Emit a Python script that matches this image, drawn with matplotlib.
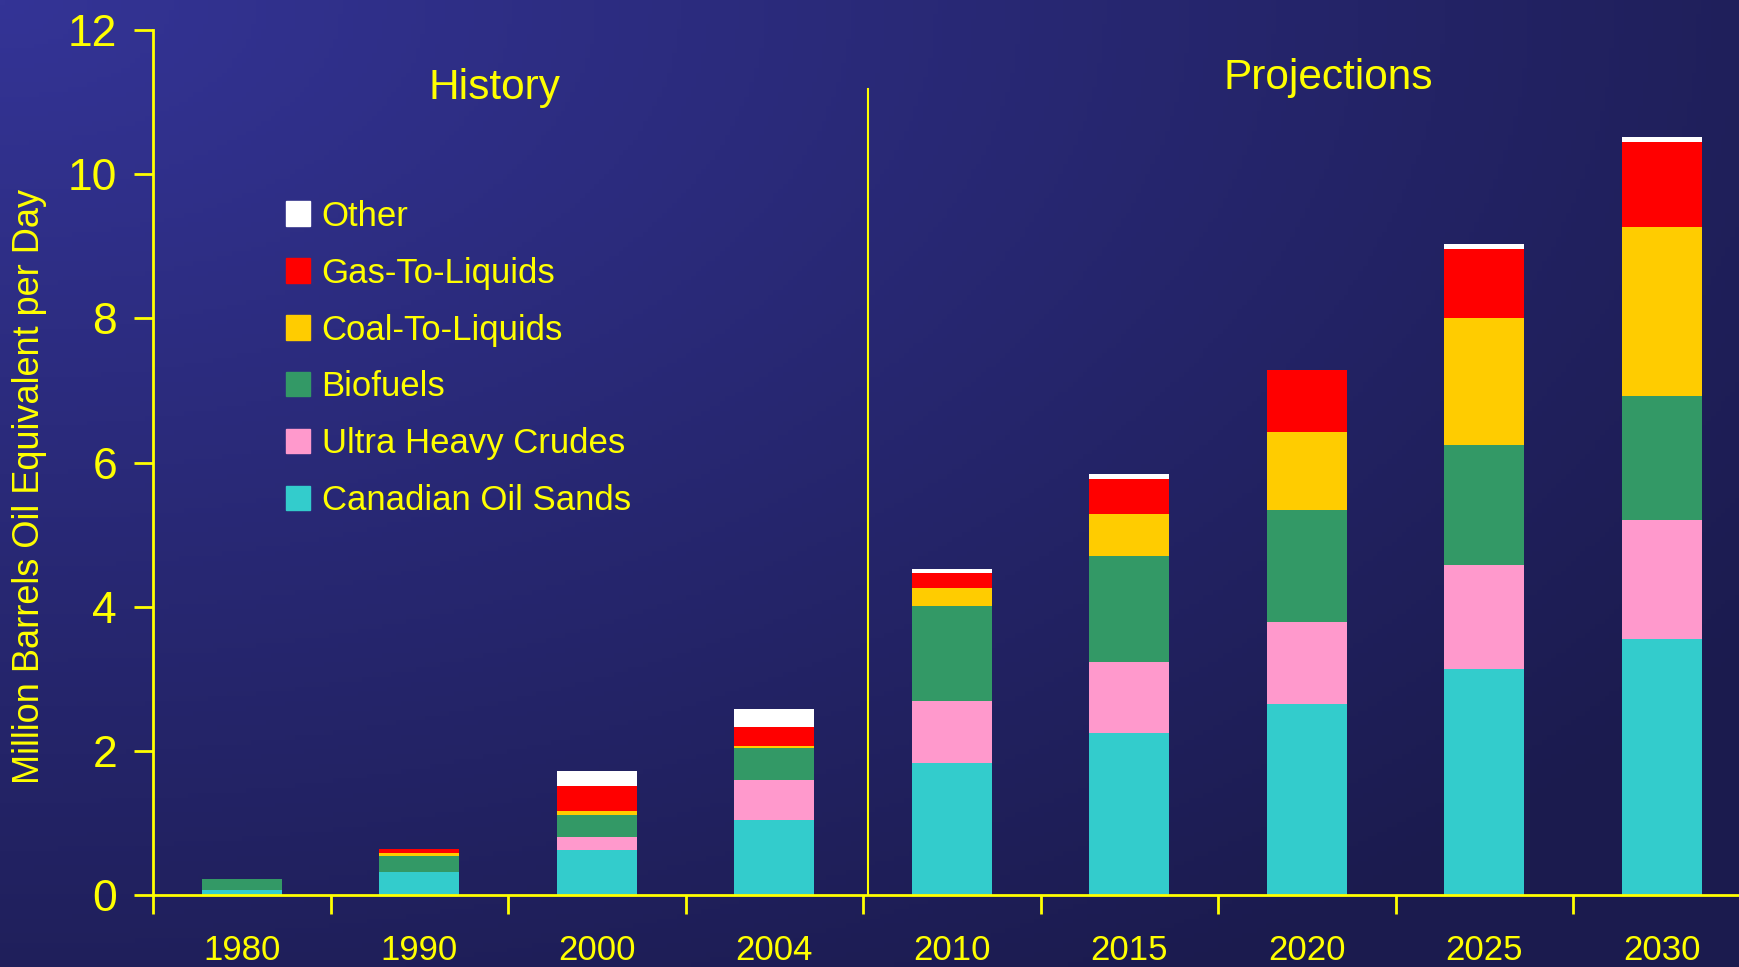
import numpy as np
import matplotlib.pyplot as plt
from matplotlib.patches import Patch

# data (million barrels oil equivalent per day)
years = ['1980', '1990', '2000', '2004', '2010', '2015', '2020', '2025', '2030']
canadian_oil_sands = [0.08, 0.33, 0.63, 1.05, 1.83, 2.25, 2.65, 3.14, 3.55]
ultra_heavy_crudes = [0.00, 0.00, 0.18, 0.55, 0.87, 0.99, 1.14, 1.44, 1.65]
biofuels = [0.15, 0.21, 0.30, 0.44, 1.31, 1.46, 1.56, 1.66, 1.73]
coal_to_liquids = [0.00, 0.05, 0.06, 0.03, 0.25, 0.59, 1.07, 1.77, 2.34]
gas_to_liquids = [0.00, 0.06, 0.35, 0.27, 0.21, 0.49, 0.86, 0.95, 1.17]
other = [0.00, 0.00, 0.20, 0.24, 0.06, 0.06, 0.00, 0.07, 0.07]

series = [
    ('Canadian Oil Sands', canadian_oil_sands, '#33CCCC'),
    ('Ultra Heavy Crudes', ultra_heavy_crudes, '#FF99CC'),
    ('Biofuels', biofuels, '#339966'),
    ('Coal-To-Liquids', coal_to_liquids, '#FFCC00'),
    ('Gas-To-Liquids', gas_to_liquids, '#FF0000'),
    ('Other', other, '#FFFFFF'),
]

yellow = '#FFFF00'
font = 'Liberation Sans'

fig = plt.figure(figsize=(17.4, 9.67), dpi=100)

# background gradient, brightest in the top-left corner
bg = fig.add_axes([0, 0, 1, 1], zorder=-10)
yy, xx = np.mgrid[0:1:200j, 0:1.8:360j]
d = np.clip(np.sqrt(xx ** 2 + (yy * 1.8) ** 2) / 2.2, 0, 1)
top = np.array([52, 52, 150]) / 255
low = np.array([27, 27, 78]) / 255
img = top[None, None, :] * (1 - d[..., None]) + low[None, None, :] * d[..., None]
bg.imshow(img, aspect='auto', extent=[0, 1, 1, 0])
bg.axis('off')

ax = fig.add_axes([0.088, 0.074, 0.912, 0.895])
ax.patch.set_alpha(0)

x = np.arange(len(years))
bottom = np.zeros(len(years))
for name, vals, col in series:
    ax.bar(x, vals, 0.45, bottom=bottom, color=col, label=name, zorder=2)
    bottom += np.array(vals)

ax.set_xlim(-0.5, 8.44)
ax.set_ylim(0, 12)
ax.set_yticks(range(0, 13, 2))
ax.set_xticks(np.arange(-0.5, 8.5, 1.0))
ax.set_xticklabels([])
ax.set_xticks(x, minor=True)
ax.set_xticklabels(years, minor=True, fontsize=25, color=yellow, family=font)
ax.tick_params(axis='x', which='minor', length=0, pad=28)
ax.tick_params(axis='x', which='major', length=14, width=2, color=yellow,
               direction='out')
ax.tick_params(axis='y', length=14, width=2, color=yellow, labelsize=32,
               labelcolor=yellow, pad=12)
for lab in ax.get_yticklabels():
    lab.set_family(font)

for s in ['top', 'right']:
    ax.spines[s].set_visible(False)
for s in ['left', 'bottom']:
    ax.spines[s].set_color(yellow)
    ax.spines[s].set_linewidth(2)
    ax.spines[s].set_zorder(3)

ax.set_ylabel('Million Barrels Oil Equivalent per Day', fontsize=26,
              color=yellow, family=font)
ax.yaxis.set_label_coords(-0.067, 0.473)

# history / projections divider
ax.plot([3.525, 3.525], [0, 11.18], color=yellow, lw=1.5, zorder=3)
ax.text(1.425, 11.2, 'History', fontsize=30.5, color=yellow,
        family=font, ha='center', va='center')
ax.text(6.12, 11.34, 'Projections', fontsize=30.5, color=yellow,
        family=font, ha='center', va='center')

handles = [Patch(color=col, label=name) for name, _, col in series][::-1]
leg = ax.legend(handles=handles, loc='upper left',
                bbox_to_anchor=(0.0838, 0.804), frameon=False,
                prop={'family': font, 'size': 25},
                handlelength=0.7, handleheight=0.7, handletextpad=0.32,
                labelspacing=0.69, borderaxespad=0, borderpad=0)
for t in leg.get_texts():
    t.set_color(yellow)

fig.savefig('out.png', dpi=100)
